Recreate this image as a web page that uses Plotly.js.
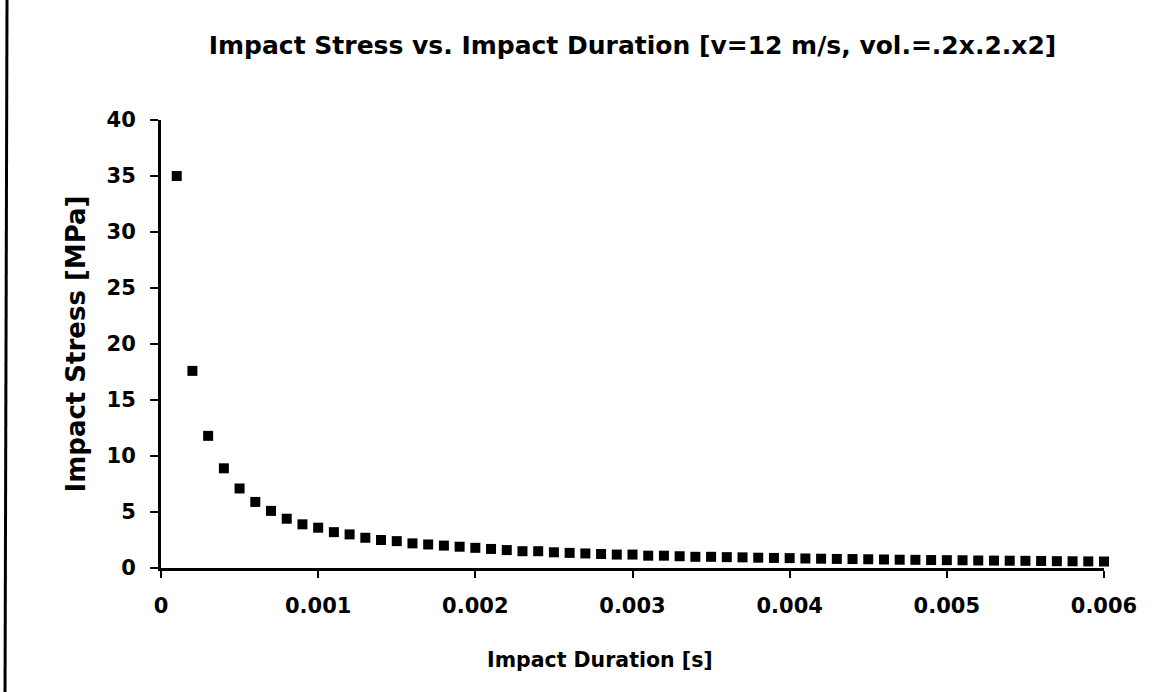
<!DOCTYPE html>
<html>
<head>
<meta charset="utf-8">
<script src="https://cdn.plot.ly/plotly-3.0.1.min.js"></script>
<style>html,body{margin:0;padding:0;background:#fff;}#chart{width:1169px;height:692px;}</style>
</head>
<body>
<div id="chart"></div>
<script>
// Impact duration [s]
const duration = [
  0.0001, 0.0002, 0.0003, 0.0004, 0.0005, 0.0006, 0.0007, 0.0008, 0.0009, 0.0010,
  0.0011, 0.0012, 0.0013, 0.0014, 0.0015, 0.0016, 0.0017, 0.0018, 0.0019, 0.0020,
  0.0021, 0.0022, 0.0023, 0.0024, 0.0025, 0.0026, 0.0027, 0.0028, 0.0029, 0.0030,
  0.0031, 0.0032, 0.0033, 0.0034, 0.0035, 0.0036, 0.0037, 0.0038, 0.0039, 0.0040,
  0.0041, 0.0042, 0.0043, 0.0044, 0.0045, 0.0046, 0.0047, 0.0048, 0.0049, 0.0050,
  0.0051, 0.0052, 0.0053, 0.0054, 0.0055, 0.0056, 0.0057, 0.0058, 0.0059, 0.0060
];
// Impact stress [MPa]
const stress = [
  35.0, 17.6, 11.8, 8.9, 7.1, 5.9, 5.1, 4.4, 3.9, 3.6,
  3.2, 3.0, 2.7, 2.5, 2.4, 2.2, 2.1, 2.0, 1.9, 1.8,
  1.7, 1.6, 1.5, 1.5, 1.4, 1.35, 1.3, 1.25, 1.2, 1.2,
  1.1, 1.1, 1.05, 1.0, 1.0, 0.97, 0.95, 0.92, 0.9, 0.88,
  0.85, 0.83, 0.81, 0.8, 0.78, 0.76, 0.74, 0.73, 0.71, 0.7,
  0.69, 0.67, 0.66, 0.65, 0.64, 0.63, 0.61, 0.6, 0.59, 0.58
];
const xTicks = [0, 0.001, 0.002, 0.003, 0.004, 0.005, 0.006];
const xTickLabels = ["0", "0.001", "0.002", "0.003", "0.004", "0.005", "0.006"];
const yTicks = [0, 5, 10, 15, 20, 25, 30, 35, 40];
const xTitle = "Impact Duration [s]";

const FONT = "DejaVu Sans";

const trace = {
  x: duration, y: stress,
  type: "scatter", mode: "markers",
  marker: {symbol: "square", size: 10, color: "#000"},
  cliponaxis: false,
  showlegend: false
};

const layout = {
  width: 1169, height: 692,
  paper_bgcolor: "#fff", plot_bgcolor: "#fff",
  margin: {l: 161, r: 65, t: 120, b: 124},
  title: {
    text: "Impact Stress vs. Impact Duration [v=12 m/s, vol.=.2x.2.x2]",
    font: {family: FONT, size: 25, color: "#000", weight: "bold"},
    x: 0.5, xref: "paper", y: 0.935, yref: "container", yanchor: "middle"
  },
  xaxis: {
    range: [0, 0.006],
    tickvals: xTicks, ticktext: xTickLabels,
    ticks: "outside", ticklen: 7, tickwidth: 2, tickcolor: "#000",
    ticklabelstandoff: 10,
    showline: true, linecolor: "#000", linewidth: 3,
    showgrid: false, zeroline: false,
    tickfont: {family: FONT, size: 21, color: "#000", weight: "bold"}
  },
  yaxis: {
    range: [0, 40],
    tickvals: yTicks,
    ticks: "outside", ticklen: 8, tickwidth: 2, tickcolor: "#000",
    ticklabelstandoff: 10,
    showline: true, linecolor: "#000", linewidth: 3,
    showgrid: false, zeroline: false,
    tickfont: {family: FONT, size: 21, color: "#000", weight: "bold"},
    title: {text: "Impact Stress [MPa]", font: {family: FONT, size: 26, color: "#000", weight: "bold"}, standoff: 14}
  },
  annotations: [
    {text: xTitle, xref: "paper", yref: "paper", x: 0.4655, y: -0.205,
     xanchor: "center", yanchor: "middle", showarrow: false,
     font: {family: FONT, size: 20.5, color: "#000", weight: "bold"}}
  ],
  shapes: [
    {type: "line", xref: "paper", yref: "paper", x0: -0.1654, x1: -0.1633, y0: -0.28, y1: 1.27,
     line: {color: "#000", width: 3}}
  ]
};

Plotly.newPlot("chart", [trace], layout, {displayModeBar: false, staticPlot: true});
</script>
</body>
</html>
